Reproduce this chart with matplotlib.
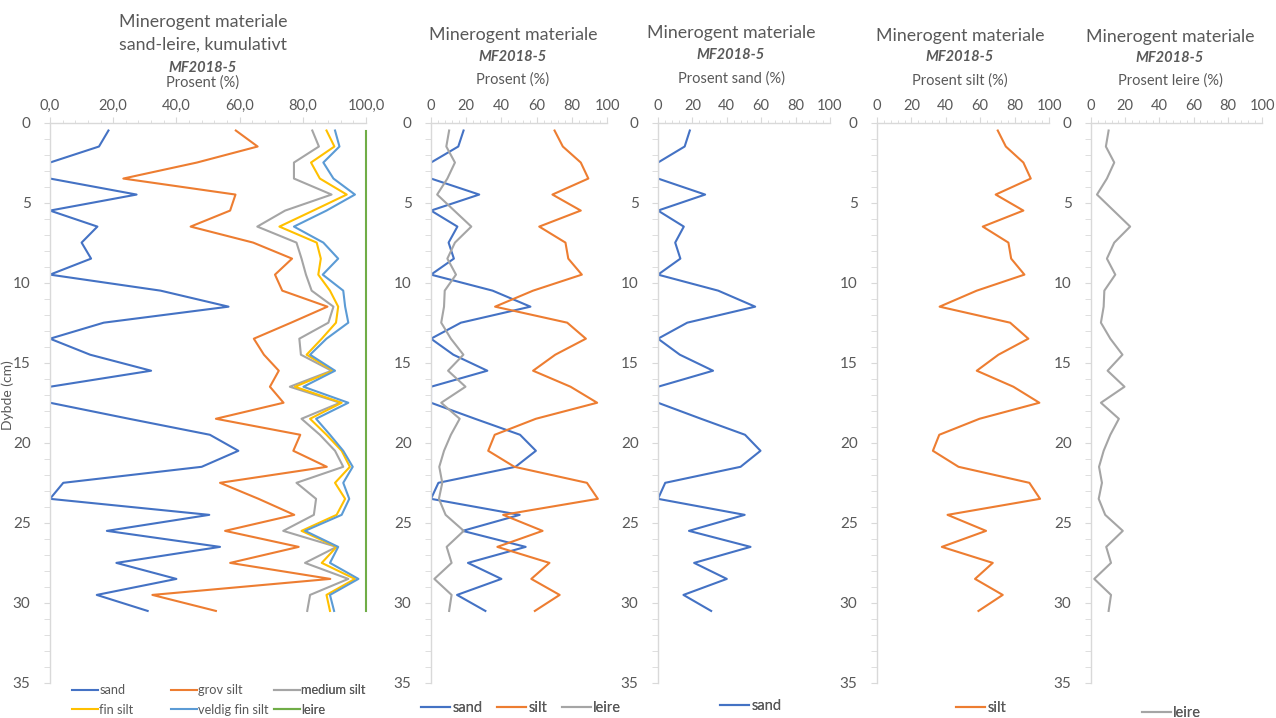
import matplotlib.pyplot as plt
from matplotlib.ticker import MultipleLocator, FuncFormatter

# depth (cm), sample midpoints
depth = [0.5, 1.5, 2.5, 3.5, 4.5, 5.5, 6.5, 7.5, 8.5, 9.5, 10.5, 11.5, 12.5, 13.5, 14.5,
         15.5, 16.5, 17.5, 18.5, 19.5, 20.5, 21.5, 22.5, 23.5, 24.5, 25.5, 26.5, 27.5,
         28.5, 29.5, 30.5]

# percent per fraction
sand = [18.5, 15.5, 0, 0, 27.4, 0, 15.0, 10.0, 13.0, 0, 35.0, 56.5, 17.0, 0, 12.7,
        32.0, 0, 0, 25.0, 50.6, 59.6, 48.0, 4.2, 0, 50.4, 18.0, 53.8, 21.0, 40.0, 14.8, 30.9]
silt = [70.2, 74.9, 85.1, 89.4, 69.0, 85.1, 61.5, 76.4, 78.0, 85.7, 58.0, 36.4, 77.4, 88.0,
        70.6, 58.0, 79.3, 94.4, 59.6, 36.2, 32.5, 47.4, 88.6, 94.8, 41.0, 63.4, 37.7, 67.3,
        57.0, 73.1, 59.0]
leire = [10.3, 8.7, 13.6, 9.3, 3.5, 13.2, 22.9, 13.6, 9.3, 14.2, 7.8, 7.4, 5.8, 11.3, 18.4,
         9.7, 19.6, 5.8, 16.3, 11.3, 7.4, 4.7, 6.4, 4.5, 8.3, 18.6, 8.9, 11.7, 1.9, 11.7, 10.3]

# cumulative curves (sand -> leire)
cum_grov = [58.8, 65.7, 46.5, 23.2, 58.7, 57.0, 44.5, 64.3, 76.6, 71.2, 73.5, 87.8, 76.3,
            64.5, 67.7, 72.4, 69.6, 73.9, 52.5, 79.2, 77.0, 87.6, 53.8, 66.0, 77.3, 55.4,
            78.7, 57.0, 88.7, 32.4, 52.5]
cum_medium = [83.0, 85.1, 77.2, 77.2, 89.1, 74.4, 65.6, 78.0, 79.6, 81.0, 82.8, 89.7, 88.1,
              78.9, 79.4, 89.1, 75.9, 91.8, 79.6, 85.4, 90.2, 92.8, 78.0, 84.2, 83.5, 73.8,
              90.7, 80.7, 94.4, 82.3, 81.4]
cum_fin = [87.5, 90.0, 82.6, 85.4, 93.9, 83.3, 72.6, 84.4, 85.7, 84.9, 88.6, 91.2, 90.5,
           86.0, 81.2, 89.7, 77.5, 92.3, 82.3, 87.5, 92.3, 94.9, 90.2, 93.4, 90.7, 79.6,
           90.7, 86.0, 96.5, 87.5, 88.6]
cum_vfin = [90.2, 91.6, 86.5, 89.7, 96.5, 87.5, 77.2, 86.5, 91.2, 86.3, 92.8, 93.4, 94.4,
            87.5, 82.3, 90.2, 80.2, 94.4, 84.2, 88.6, 92.8, 95.8, 92.8, 94.7, 92.3, 80.7,
            91.2, 88.6, 97.6, 88.6, 89.9]
cum_leire = [100, 100, 100, 100, 100, 100, 100, 100, 100, 100, 100, 100, 100, 100, 100, 100,
             100, 100, 100, 100, 100, 100, 100, 100, 100, 100, 100, 100, 100, 100, 100]

BLUE = "#4472C4"
ORANGE = "#ED7D31"
GRAY = "#A5A5A5"
YELLOW = "#FFC000"
LBLUE = "#5B9BD5"
GREEN = "#70AD47"
TXT = "#595959"
AXC = "#D9D9D9"

W, H = 1276, 718
LW = 1.5

plt.rcParams['font.family'] = ['Lato', 'DejaVu Sans']

fig = plt.figure(figsize=(W / 100, H / 100), dpi=100)


def fx(px):
    return px / W


def fy(py):
    return 1 - py / H


def make_axes(x0, x1, comma=False, top=122.5, bottom=683):
    ax = fig.add_axes([fx(x0), fy(bottom), (x1 - x0) / W, (bottom - top) / H])
    ax.set_xlim(0, 100)
    ax.set_ylim(35, 0)
    ax.xaxis.tick_top()
    for s in ["right", "bottom"]:
        ax.spines[s].set_visible(False)
    for s in ["left", "top"]:
        ax.spines[s].set_color(AXC)
        ax.spines[s].set_linewidth(1.0)
    ax.xaxis.set_major_locator(MultipleLocator(20))
    ax.xaxis.set_minor_locator(MultipleLocator(4))
    ax.yaxis.set_major_locator(MultipleLocator(5))
    ax.yaxis.set_minor_locator(MultipleLocator(1))
    if comma:
        ax.xaxis.set_major_formatter(FuncFormatter(lambda v, p: f"{v:.1f}".replace(".", ",")))
    ax.tick_params(axis="x", which="both", colors=AXC, labelcolor=TXT, labelsize=10.5,
                   direction="out", pad=3)
    ax.tick_params(axis="x", which="major", length=4)
    ax.tick_params(axis="x", which="minor", length=2.5)
    ax.tick_params(axis="y", which="both", colors=AXC, labelcolor=TXT, labelsize=11,
                   direction="out", pad=10)
    ax.tick_params(axis="y", which="major", length=4)
    ax.tick_params(axis="y", which="minor", length=4)
    ax.set_facecolor("none")
    return ax


def titles(cx, ys, lines, sub):
    for y, t in zip(ys[:-2], lines):
        fig.text(fx(cx), fy(y), t, ha="center", va="center", fontsize=12.8, color=TXT)
    fig.text(fx(cx), fy(ys[-2]), "MF2018-5", ha="center", va="center", fontsize=10.5,
             color=TXT, fontweight="bold", fontstyle="italic")
    fig.text(fx(cx), fy(ys[-1]), sub, ha="center", va="center", fontsize=10.5, color=TXT)


def leg(ax, handles, labels, x, y, ncol=1, spacing=1.0, size=10.5):
    lg = ax.legend(handles, labels, loc="center left", bbox_to_anchor=(fx(x), fy(y)),
                   bbox_transform=fig.transFigure, ncol=ncol, frameon=False,
                   fontsize=size, handlelength=2.0, handletextpad=0.15,
                   columnspacing=spacing, borderpad=0, borderaxespad=0,
                   labelspacing=0.6, labelcolor=TXT)
    ax.add_artist(lg)
    return lg


# panel 1: cumulative
ax1 = make_axes(50, 366, comma=True)
l_sand, = ax1.plot(sand, depth, color=BLUE, lw=LW)
l_grov, = ax1.plot(cum_grov, depth, color=ORANGE, lw=LW)
l_med, = ax1.plot(cum_medium, depth, color=GRAY, lw=LW)
l_fin, = ax1.plot(cum_fin, depth, color=YELLOW, lw=LW)
l_vfin, = ax1.plot(cum_vfin, depth, color=LBLUE, lw=LW)
l_lei, = ax1.plot(cum_leire, depth, color=GREEN, lw=LW, clip_on=False)
titles(203, [22, 45, 68, 83], ["Minerogent materiale", "sand-leire, kumulativt"], "Prosent (%)")
fig.text(fx(8), fy(395), "Dybde (cm)", rotation=90, ha="center", va="center",
         fontsize=10, color=TXT)
leg(ax1, [l_sand, l_fin], ["sand", "fin silt"], 72, 700, size=9.2)
leg(ax1, [l_grov, l_vfin], ["grov silt", "veldig fin silt"], 171, 700, size=9.2)
leg(ax1, [l_med, l_lei], ["medium silt", "leire"], 274, 700, size=9.2)

# panel 2: sand, silt, leire
ax2 = make_axes(431, 607)
p_sand, = ax2.plot(sand, depth, color=BLUE, lw=LW)
p_silt, = ax2.plot(silt, depth, color=ORANGE, lw=LW)
p_lei, = ax2.plot(leire, depth, color=GRAY, lw=LW)
titles(513, [35, 57, 80], ["Minerogent materiale"], "Prosent (%)")
leg(ax2, [p_sand, p_silt, p_lei], ["sand", "silt", "leire"], 421, 708, ncol=3, spacing=1.0)

# panel 3: sand
ax3 = make_axes(658, 830)
q_sand, = ax3.plot(sand, depth, color=BLUE, lw=LW)
titles(731, [33, 55, 79], ["Minerogent materiale"], "Prosent sand (%)")
leg(ax3, [q_sand], ["sand"], 720, 706)

# panel 4: silt
ax4 = make_axes(877, 1049)
r_silt, = ax4.plot(silt, depth, color=ORANGE, lw=LW)
titles(960, [36, 57, 81], ["Minerogent materiale"], "Prosent silt (%)")
leg(ax4, [r_silt], ["silt"], 956, 708)

# panel 5: leire
ax5 = make_axes(1091, 1262)
s_lei, = ax5.plot(leire, depth, color=GRAY, lw=LW)
titles(1170, [37, 58, 81], ["Minerogent materiale"], "Prosent leire (%)")
leg(ax5, [s_lei], ["leire"], 1142, 713)

fig.savefig("out.png", dpi=100)
